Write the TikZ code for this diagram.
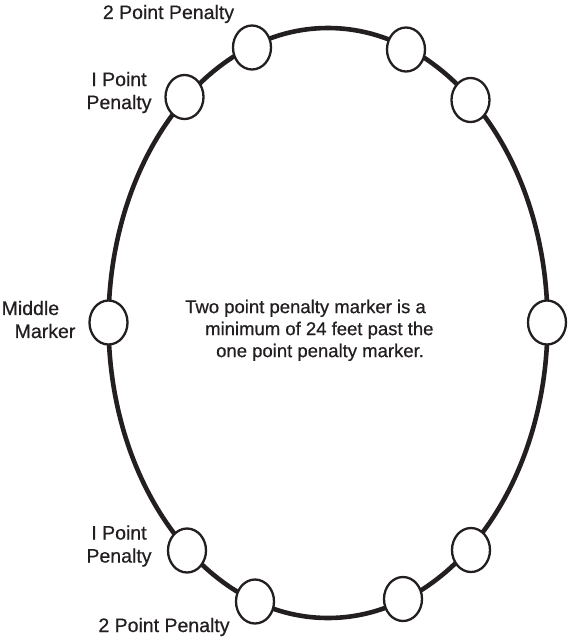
\documentclass[tikz,border=0pt]{standalone}
\usepackage{fontspec}
\setmainfont{Liberation Sans}
\newfontfamily\medfont{Liberation Sans}[FakeBold=0.6]
\usetikzlibrary{shapes.geometric}
\definecolor{ink}{HTML}{231F20}
\begin{document}
\begin{tikzpicture}[x=1pt,y=-1pt,
  track/.style={line width=4.6pt, draw=ink},
  marker/.style={ellipse, draw=ink, line width=2.3pt, fill=white, minimum width=38pt, minimum height=44pt, inner sep=0pt},
  lbl/.style={font=\medfont\fontsize{19.5}{23}\selectfont, text=ink, inner sep=0pt},
  note/.style={font=\medfont\fontsize{18.5}{22}\selectfont, text=ink, inner sep=0pt, align=left}]
\useasboundingbox (0,0) rectangle (569,642);
% track
\draw[track] (328,323) ellipse [x radius=219.5pt, y radius=295pt];
% markers
\node[marker] (tl2) at (252,47.5) {};
\node[marker] (tr2) at (406,49.5) {};
\node[marker] (tl1) at (184.5,97) {};
\node[marker] (tr1) at (470.5,100) {};
\node[marker] (ml) at (108.5,322.5) {};
\node[marker] (mr) at (547,322.5) {};
\node[marker] (bl1) at (187,550.5) {};
\node[marker] (br1) at (471,550) {};
\node[marker] (bl2) at (255,601.5) {};
\node[marker] (br2) at (403,599) {};
% labels
\node[lbl, anchor=base] (top2) at (168.5,19) {2 Point Penalty};
\node[lbl, align=center] (top1) at (119,92.5) {I Point\\Penalty};
\node[lbl, align=left, anchor=west] (mid) at (1.5,319.5) {Middle\\\hspace*{13pt}Marker};
\node[lbl, align=center] (bot1) at (119,546) {I Point\\Penalty};
\node[lbl, anchor=base] (bot2) at (164,632) {2 Point Penalty};
\node[note, anchor=north west] (note) at (185,299.5) {Two point penalty marker is a\\\hspace*{20pt}minimum of 24 feet past the\\\hspace*{31pt}one point penalty marker.};
\end{tikzpicture}
\end{document}
